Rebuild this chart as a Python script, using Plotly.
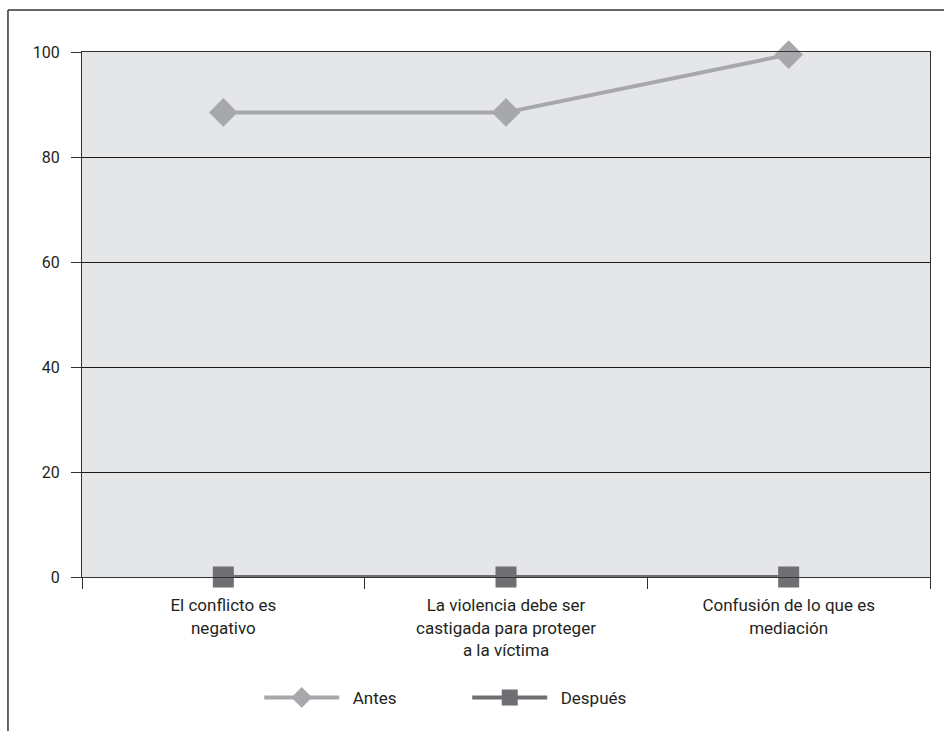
import plotly.graph_objects as go

# Categories (line-broken labels) and series values
categories = [
    "El conflicto es<br>negativo",
    "La violencia debe ser<br>castigada para proteger<br>a la víctima",
    "Confusión de lo que es<br>mediación",
]
antes = [88.5, 88.5, 99.5]
despues = [0, 0, 0]
y_ticks = [0, 20, 40, 60, 80, 100]

FONT = "Roboto"
TEXT = "#231f20"
PAD = "\u00a0\u00a0"  # small gap between legend symbol and its text

fig = go.Figure()
fig.add_trace(go.Scatter(
    x=categories, y=antes, name=PAD + "Antes", mode="lines+markers",
    line=dict(color="#a7a8ab", width=4),
    marker=dict(symbol="diamond", size=22, color="#a7a8ab"),
    cliponaxis=False,
))
fig.add_trace(go.Scatter(
    x=categories, y=despues, name=PAD + "Después", mode="lines+markers",
    line=dict(color="#6f6f73", width=4),
    marker=dict(symbol="square", size=21, color="#6f6f73"),
    cliponaxis=False,
))

fig.update_layout(
    width=944, height=731,
    margin=dict(l=82, r=14, t=52, b=154),
    paper_bgcolor="white",
    plot_bgcolor="#e5e6e8",
    font=dict(family=FONT, size=17, color=TEXT),
    showlegend=True,
    legend=dict(
        orientation="h", x=0.209, y=-0.196, xanchor="left", yanchor="top",
        itemwidth=75, entrywidth=118, font=dict(size=17),
        bgcolor="rgba(0,0,0,0)", tracegroupgap=0,
    ),
)
fig.update_xaxes(
    type="category", range=[-0.5, 2.5],
    showline=True, linecolor="#333333", linewidth=1, mirror=True,
    showgrid=False, tickson="boundaries",
    ticks="outside", ticklen=11, tickcolor="#333333",
    ticklabelstandoff=13,
    tickfont=dict(family=FONT, size=17, color=TEXT),
)
fig.update_yaxes(
    range=[0, 100], tickvals=y_ticks,
    showline=True, linecolor="#333333", linewidth=1, mirror=True,
    showgrid=True, gridcolor="#1a1a1a", gridwidth=1,
    ticks="outside", ticklen=10, tickcolor="#333333",
    ticklabelstandoff=8,
    tickfont=dict(family=FONT, size=16, color=TEXT),
    zeroline=False,
)

# Outer frame lines (top and left edges)
fig.add_shape(type="line", xref="paper", yref="paper",
              x0=-0.0873, x1=1.1, y0=1.08, y1=1.08,
              line=dict(color="#333333", width=1.5))
fig.add_shape(type="line", xref="paper", yref="paper",
              x0=-0.0873, x1=-0.0873, y0=1.08, y1=-0.4,
              line=dict(color="#333333", width=1.5))

fig.write_html("out.html")
